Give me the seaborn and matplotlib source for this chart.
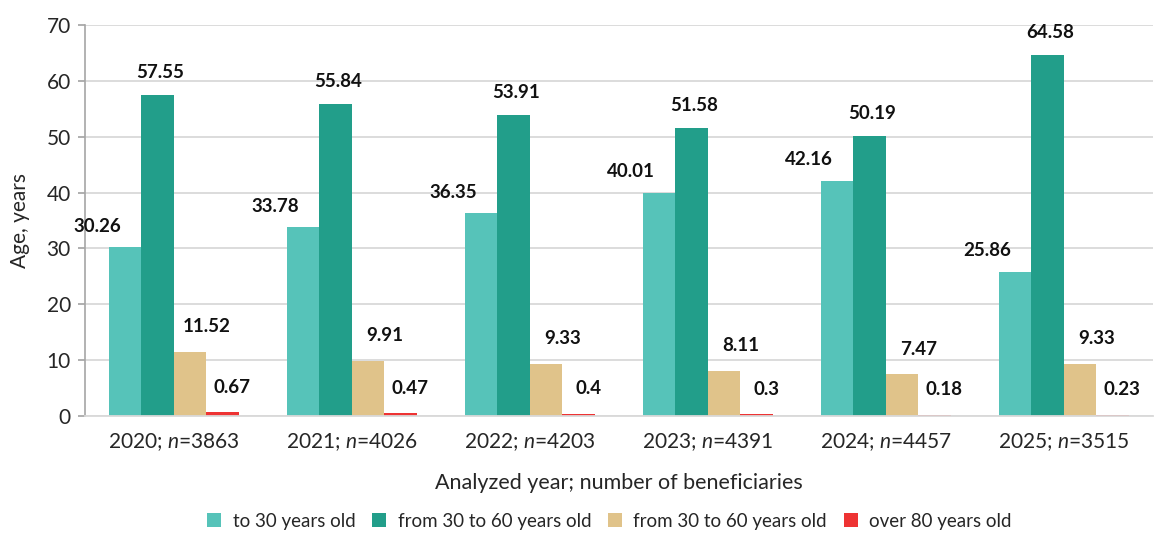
import matplotlib
matplotlib.use("Agg")
import matplotlib.pyplot as plt
import seaborn as sns
import pandas as pd
import numpy as np

years = ["2020", "2021", "2022", "2023", "2024", "2025"]
n_values = ["3863", "4026", "4203", "4391", "4457", "3515"]
series_names = ["to 30 years old", "from 30 to 60 years old", "from 30 to 60 years old ", "over 80 years old"]
legend_labels = ["to 30 years old", "from 30 to 60 years old", "from 30 to 60 years old", "over 80 years old"]
s1 = [30.26, 33.78, 36.35, 40.01, 42.16, 25.86]
s2 = [57.55, 55.84, 53.91, 51.58, 50.19, 64.58]
s3 = [11.52, 9.91, 9.33, 8.11, 7.47, 9.33]
s4 = [0.67, 0.47, 0.4, 0.3, 0.18, 0.23]
colors = ["#56C3B9", "#229E8A", "#E0C38A", "#EE3333"]

sns.set_theme(style="white")
plt.rcParams['font.family'] = ['Lato', 'DejaVu Sans']
plt.rcParams['mathtext.fontset'] = 'custom'
plt.rcParams['mathtext.rm'] = 'Lato'
plt.rcParams['mathtext.it'] = 'Lato:italic'

xlabels = [f"{y}; $\\mathit{{n}}$={n}" for y, n in zip(years, n_values)]
rows = []
for name, vals in zip(series_names, [s1, s2, s3, s4]):
    for xl, v in zip(xlabels, vals):
        rows.append({"year": xl, "series": name, "value": v})
df = pd.DataFrame(rows)

fig, ax = plt.subplots(figsize=(11.61, 5.34), dpi=100)
fig.subplots_adjust(left=0.073, right=0.993, top=0.953, bottom=0.221)

sns.barplot(data=df, x="year", y="value", hue="series", palette=colors,
            width=0.73, gap=0, saturation=1, ax=ax, legend=True, linewidth=0)

ax.set_ylim(0, 70)
ax.set_xlim(-0.5, 5.5)
ax.set_yticks(range(0, 71, 10))
ax.yaxis.grid(True, color="#D9D9D9", linewidth=1.3)
ax.set_axisbelow(True)
for s in ["top", "right"]:
    ax.spines[s].set_visible(False)
ax.spines["left"].set_color("#A6A6A6")
ax.spines["bottom"].set_color("#D9D9D9")
ax.spines["left"].set_linewidth(1.2)
ax.spines["bottom"].set_linewidth(1.3)
ax.tick_params(axis="y", which="both", left=True, length=5, color="#A6A6A6", labelsize=15, pad=5)
ax.tick_params(axis="x", length=0, labelsize=15, pad=11)
ax.set_xlabel("Analyzed year; number of beneficiaries", fontsize=15.5, labelpad=14)
ax.set_ylabel("Age, years", fontsize=15, labelpad=12)

offsets = [(-20, 9), (2, 10), (12, 12), (7, 12)]
for i, cont in enumerate(ax.containers):
    for bar in cont:
        h = bar.get_height()
        cx = bar.get_x() + bar.get_width() / 2
        ax.annotate(f"{h:g}", (cx, h), xytext=offsets[i], textcoords="offset points",
                    ha="center", va="bottom", fontsize=13.5, fontweight="bold", color="#111111")

handles, _ = ax.get_legend_handles_labels()
ax.get_legend().remove()
fig.legend(handles, legend_labels, loc="center", bbox_to_anchor=(0.525, 13 / 534),
           ncol=4, frameon=False, fontsize=13.5, handlelength=0.75, handleheight=0.75,
           handletextpad=0.6, columnspacing=0.9)

fig.savefig("out.png", dpi=100)
